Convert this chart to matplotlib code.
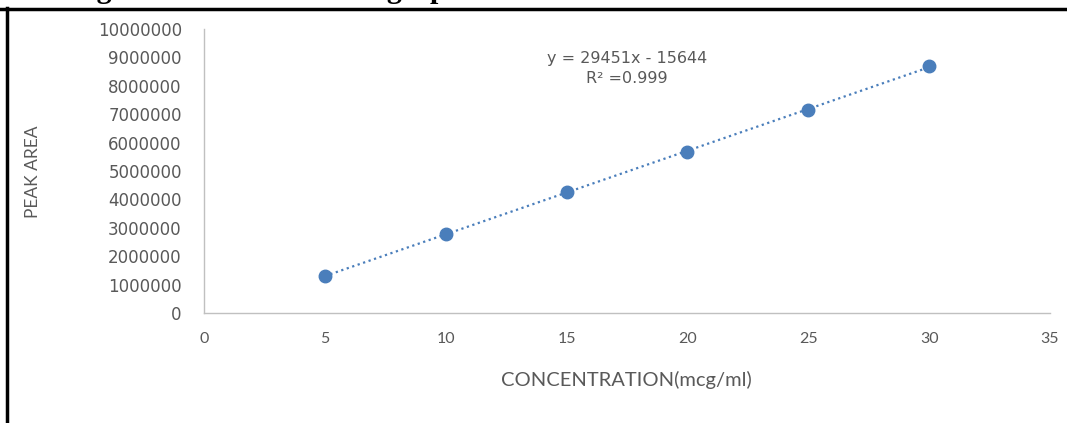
import numpy as np
import matplotlib
matplotlib.use("Agg")
import matplotlib.pyplot as plt
from matplotlib.lines import Line2D

# calibration data
conc = [5, 10, 15, 20, 25, 30]
peak_area = [1310000, 2780000, 4250000, 5670000, 7150000, 8700000]
x_ticks = [0, 5, 10, 15, 20, 25, 30, 35]
y_ticks = [0, 1000000, 2000000, 3000000, 4000000, 5000000,
           6000000, 7000000, 8000000, 9000000, 10000000]
eq_text = "y = 29451x - 15644\nR² =0.999"
title = "Figure 10.3: Calibration graph for standard solution of Rosuvastatin calcium"

blue = "#4A7EBB"
grey_txt = "#595959"
narrow = ["Lato", "DejaVu Sans"]

W, H = 1067, 423
fig = plt.figure(figsize=(W / 100, H / 100), dpi=100)
ax = fig.add_axes([204 / W, 1 - 313 / H, 846 / W, 284 / H])

# trendline from linear fit
k, b = np.polyfit(conc, peak_area, 1)
xs = np.array([min(conc), max(conc)])
ax.plot(xs, k * xs + b, linestyle=(0, (1, 1.6)), color=blue, linewidth=1.6)
ax.plot(conc, peak_area, "o", color=blue, markersize=9, zorder=3)

ax.set_xlim(0, 35)
ax.set_ylim(0, 10000000)
ax.set_xticks(x_ticks)
ax.set_yticks(y_ticks)
ax.set_xticklabels([str(v) for v in x_ticks], family=narrow, fontsize=11.5, color=grey_txt)
ax.set_yticklabels([str(v) for v in y_ticks], family="DejaVu Sans", fontsize=12, color=grey_txt)
ax.tick_params(axis="both", length=0)
ax.tick_params(axis="y", pad=16)
ax.tick_params(axis="x", pad=14)

for side in ["top", "right"]:
    ax.spines[side].set_visible(False)
for side in ["left", "bottom"]:
    ax.spines[side].set_color("#c0c0c0")
    ax.spines[side].set_linewidth(1)

ax.text((627 - 204) / 24.17, (313 - 51) / 28.4 * 1e6, eq_text, ha="center", va="top",
        fontsize=11.5, color=grey_txt, family="DejaVu Sans", linespacing=1.45)

fig.text(626 / W, 1 - 380 / H, "CONCENTRATION(mcg/ml)", ha="center", va="center",
         family=narrow, fontsize=14.5, color=grey_txt)
fig.text(33 / W, 1 - 172 / H, "PEAK AREA", ha="center", va="center", rotation=90,
         family=narrow, fontsize=12.5, color=grey_txt)

# caption cut off at the top edge, and the page frame
fig.text(70 / W, 1 + 2.5 / H, title, ha="left", va="baseline", family="Liberation Serif",
         fontweight="bold", fontsize=21.5, color="black")
fig.add_artist(Line2D([0, 1], [1 - 9.5 / H, 1 - 9.5 / H], color="black",
                      linewidth=2.5, transform=fig.transFigure))
fig.add_artist(Line2D([7 / W, 7 / W], [0, 1 - 8 / H], color="black",
                      linewidth=2.5, transform=fig.transFigure))

fig.savefig("out.png", dpi=100)
